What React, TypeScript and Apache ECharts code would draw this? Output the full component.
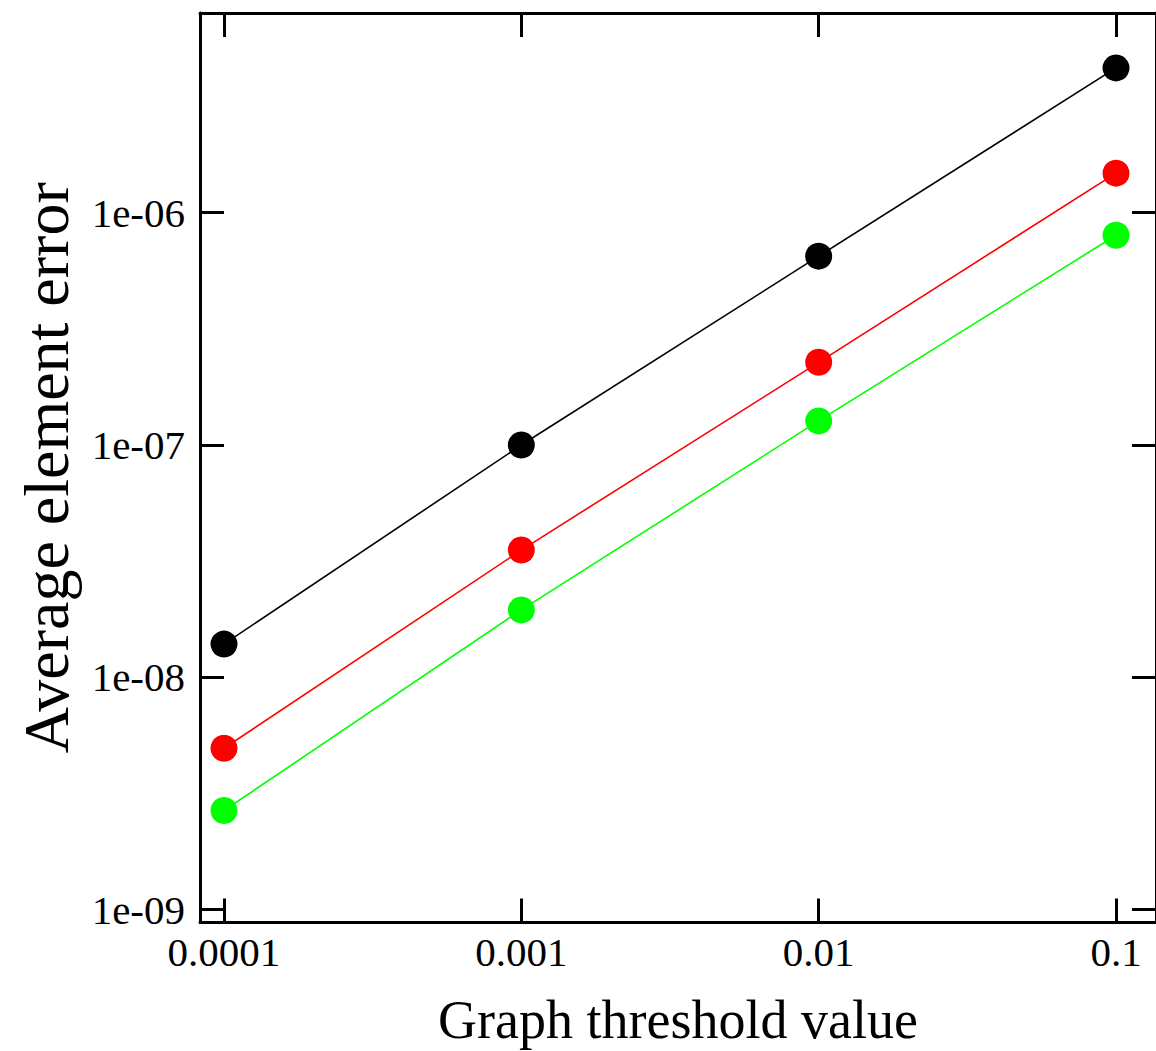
import React, { useEffect, useRef } from "react";
import * as echarts from "echarts";

const thresholds = [1e-4, 1e-3, 1e-2, 1e-1];
const blackSeries = [1.39e-8, 1.0e-7, 6.5e-7, 4.2e-6];
const redSeries = [4.95e-9, 3.53e-8, 2.27e-7, 1.48e-6];
const greenSeries = [2.67e-9, 1.95e-8, 1.27e-7, 8.0e-7];

const xTitle = "Graph threshold value";
const yTitle = "Average element error";

const FONT = "Liberation Serif";

function isPow10(v: number) {
  const e = Math.log10(v);
  return Math.abs(e - Math.round(e)) < 1e-6;
}

function fmtX(v: number) {
  if (!isPow10(v)) return "";
  const r = Math.round(Math.log10(v));
  return r < 0 ? v.toFixed(-r) : String(v);
}

function fmtY(v: number) {
  if (!isPow10(v)) return "";
  const r = Math.round(Math.log10(v));
  return "1e-" + String(-r).padStart(2, "0");
}

export default function App() {
  const ref = useRef<HTMLDivElement>(null);
  useEffect(() => {
    if (!ref.current) return;
    const chart = echarts.init(ref.current, null, { renderer: "svg" });
    const xMin = Math.pow(10, -4.0807);
    const xMax = Math.pow(10, -0.8655);
    const yMin = Math.pow(10, -9.0555);
    const yMax = Math.pow(10, -5.1403);
    const axisLine = { show: true, lineStyle: { color: "#000", width: 3 } };
    const tick = { show: true, inside: true, length: 24, lineStyle: { color: "#000", width: 3 } };
    const mk = (data: number[], color: string, name: string) => ({
      type: "line",
      name,
      data: thresholds.map((x, i) => [x, data[i]]),
      symbol: "circle",
      symbolSize: 27,
      lineStyle: { color, width: 1.6 },
      itemStyle: { color },
      xAxisIndex: 0,
      yAxisIndex: 0,
    });
    chart.setOption({
      animation: false,
      backgroundColor: "#fff",
      grid: {
        left: 200,
        top: 13,
        width: 956,
        height: 909.5,
        containLabel: false,
        outerBoundsMode: "none",
      },
      xAxis: [
        {
          type: "log",
          logBase: 10,
          position: "bottom",
          min: xMin,
          max: xMax,
          axisLine,
          axisTick: tick,
          minorTick: { show: false },
          splitLine: { show: false },
          axisLabel: {
            formatter: fmtX,
            fontFamily: FONT,
            fontSize: 41,
            color: "#000",
            margin: 9,
          },
          name: xTitle,
          nameLocation: "middle",
          nameGap: 70,
          nameTextStyle: { fontFamily: FONT, fontSize: 54, color: "#000" },
        },
        {
          type: "log",
          logBase: 10,
          position: "top",
          min: xMin,
          max: xMax,
          axisLine,
          axisTick: tick,
          splitLine: { show: false },
          axisLabel: { show: false },
        },
      ],
      yAxis: [
        {
          type: "log",
          logBase: 10,
          position: "left",
          min: yMin,
          max: yMax,
          axisLine,
          axisTick: tick,
          splitLine: { show: false },
          axisLabel: {
            formatter: fmtY,
            fontFamily: FONT,
            fontSize: 41,
            color: "#000",
            margin: 15,
          },
          name: yTitle,
          nameLocation: "middle",
          nameGap: 122,
          nameRotate: 90,
          nameTextStyle: { fontFamily: FONT, fontSize: 64, color: "#000" },
        },
        {
          type: "log",
          logBase: 10,
          position: "right",
          min: yMin,
          max: yMax,
          axisLine,
          axisTick: tick,
          splitLine: { show: false },
          axisLabel: { show: false },
        },
      ],
      series: [
        mk(blackSeries, "#000000", "black"),
        mk(redSeries, "#ff0000", "red"),
        mk(greenSeries, "#00ff00", "green"),
      ],
    });
    return () => chart.dispose();
  }, []);
  return (
    <div
      ref={ref}
      style={{ position: "fixed", left: 0, top: 0, width: 1156, height: 1051, background: "#fff" }}
    />
  );
}
